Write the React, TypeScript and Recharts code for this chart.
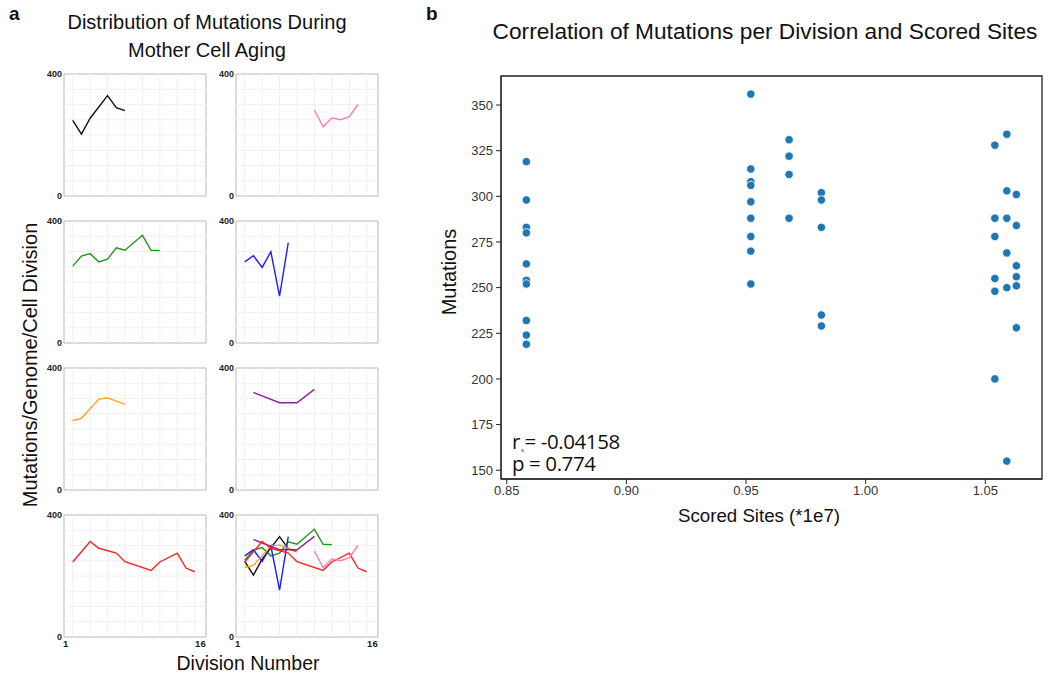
import React from "react";
import {
  LineChart,
  Line,
  XAxis,
  YAxis,
  ReferenceLine,
  ReferenceArea,
  ScatterChart,
  Scatter,
} from "recharts";

// Mutations per genome per division, one series per mother cell lineage.
const blackDivisions = [1, 2, 3, 5, 6, 7];
const blackMutations = [248, 203, 255, 329, 290, 280];
const pinkDivisions = [9, 10, 11, 12, 13, 14];
const pinkMutations = [282, 227, 256, 250, 260, 300];
const greenDivisions = [1, 2, 3, 4, 5, 6, 7, 9, 10, 11];
const greenMutations = [252, 285, 293, 266, 275, 312, 304, 353, 304, 303];
const blueDivisions = [1, 2, 3, 4, 5, 6];
const blueMutations = [266, 286, 248, 299, 154, 329];
const orangeDivisions = [1, 2, 4, 5, 7];
const orangeMutations = [228, 235, 298, 302, 281];
const purpleDivisions = [2, 5, 7, 9];
const purpleMutations = [320, 286, 286, 330];
const redDivisions = [1, 3, 4, 6, 7, 10, 11, 13, 14, 15];
const redMutations = [246, 313, 291, 275, 247, 218, 246, 275, 226, 214];

const divisionTicks = [1, 16];
const mutationTicks = [0, 400];
const divisionGrid = [1, 3, 5, 7, 9, 11, 13, 15];
const mutationGrid = [50, 100, 150, 200, 250, 300, 350];

// Scored sites (*1e7) per sample and the mutation counts measured at each.
const scoredSites = [0.8582, 0.952, 0.968, 0.9815, 1.054, 1.059, 1.063];
const mutationsAtSite = [
  [319, 298, 283, 280, 263, 254, 252, 232, 224, 219],
  [356, 315, 308, 306, 297, 288, 278, 270, 252],
  [331, 322, 312, 288],
  [302, 298, 283, 235, 229],
  [328, 288, 278, 255, 248, 200],
  [334, 303, 288, 269, 250, 155],
  [301, 284, 262, 256, 251, 228],
];
const siteTicks = [0.85, 0.9, 0.95, 1.0, 1.05];
const scatterMutationTicks = [150, 175, 200, 225, 250, 275, 300, 325, 350];

type Series = { name: string; color: string; points: { x: number; y: number }[] };

const toPoints = (xs: number[], ys: number[]) => xs.map((x, i) => ({ x, y: ys[i] }));

const black: Series = { name: "black", color: "#111111", points: toPoints(blackDivisions, blackMutations) };
const pink: Series = { name: "pink", color: "#ff7ac2", points: toPoints(pinkDivisions, pinkMutations) };
const green: Series = { name: "green", color: "#1f961f", points: toPoints(greenDivisions, greenMutations) };
const blue: Series = { name: "blue", color: "#1c1cff", points: toPoints(blueDivisions, blueMutations) };
const orange: Series = { name: "orange", color: "#ffa31a", points: toPoints(orangeDivisions, orangeMutations) };
const purple: Series = { name: "purple", color: "#8e1f98", points: toPoints(purpleDivisions, purpleMutations) };
const red: Series = { name: "red", color: "#ff1f1f", points: toPoints(redDivisions, redMutations) };

const panels: { left: number; top: number; series: Series[]; showX: boolean }[] = [
  { left: 64, top: 74, series: [black], showX: false },
  { left: 236, top: 74, series: [pink], showX: false },
  { left: 64, top: 221, series: [green], showX: false },
  { left: 236, top: 221, series: [blue], showX: false },
  { left: 64, top: 368, series: [orange], showX: false },
  { left: 236, top: 368, series: [purple], showX: false },
  { left: 64, top: 515, series: [red], showX: true },
  { left: 236, top: 515, series: [black, green, blue, orange, purple, red, pink], showX: true },
];

const scatterPoints = scoredSites.flatMap((x, i) => mutationsAtSite[i].map((y) => ({ x, y })));

const X_MAX = 16.3;
const FONT = "'Liberation Sans', Arial, sans-serif";

function DivisionTick(props: any) {
  const { x, y, payload, index } = props;
  const shift = index === 0 ? -7 : -3;
  return (
    <text x={x + shift} y={y + 2} textAnchor="middle" fontSize={9.5} fontWeight="bold" fill="#222" fontFamily={FONT}>
      {payload.value}
    </text>
  );
}

function MiniChart({ left, top, series, showX }: { left: number; top: number; series: Series[]; showX: boolean }) {
  return (
    <div style={{ position: "absolute", left: left - 40, top: top - 10 }}>
      <LineChart width={192} height={162} margin={{ top: 10, right: 10, left: 0, bottom: 0 }}>
        <XAxis
          type="number"
          dataKey="x"
          domain={[0, X_MAX]}
          ticks={divisionTicks}
          height={30}
          axisLine={false}
          tickLine={false}
          tick={showX ? <DivisionTick /> : false}
          allowDataOverflow
        />
        <YAxis
          type="number"
          domain={[0, 400]}
          ticks={mutationTicks}
          width={40}
          axisLine={false}
          tickLine={false}
          tickSize={0}
          tickMargin={2}
          tick={{ fontSize: 9, fontWeight: "bold", fill: "#222", fontFamily: FONT }}
        />
        {divisionGrid.map((v) => (
          <ReferenceLine key={`gx${v}`} x={v} stroke="#f0f0f0" strokeWidth={1} />
        ))}
        {mutationGrid.map((v) => (
          <ReferenceLine key={`gy${v}`} y={v} stroke="#f0f0f0" strokeWidth={1} />
        ))}
        <ReferenceArea x1={0} x2={X_MAX} y1={0} y2={400} fill="none" stroke="#b8b8b8" strokeWidth={1} />
        {series.map((s) => (
          <Line
            key={s.name}
            data={s.points}
            dataKey="y"
            type="linear"
            stroke={s.color}
            strokeWidth={1.4}
            dot={false}
            activeDot={false}
            isAnimationActive={false}
          />
        ))}
      </LineChart>
    </div>
  );
}

const X_DOMAIN: [number, number] = [0.8476, 1.0737];
const Y_DOMAIN: [number, number] = [145.2, 365.9];

export default function App() {
  return (
    <div
      style={{
        position: "absolute",
        left: 0,
        top: 0,
        width: 1050,
        height: 675,
        background: "#fff",
        fontFamily: FONT,
        color: "#111",
        overflow: "hidden",
      }}
    >
      {/* panel a */}
      <div style={{ position: "absolute", left: 9, top: 3, fontSize: 19, fontWeight: "bold" }}>a</div>
      <div
        style={{
          position: "absolute",
          left: 57,
          top: 8,
          width: 300,
          textAlign: "center",
          fontSize: 20,
          lineHeight: "28px",
        }}
      >
        Distribution of Mutations During
        <br />
        Mother Cell Aging
      </div>
      <div
        style={{
          position: "absolute",
          left: 30,
          top: 365,
          transform: "translate(-50%, -50%) rotate(-90deg)",
          whiteSpace: "nowrap",
          fontSize: 20,
        }}
      >
        Mutations/Genome/Cell Division
      </div>
      <div
        style={{
          position: "absolute",
          left: 248,
          top: 663,
          transform: "translate(-50%, -50%)",
          whiteSpace: "nowrap",
          fontSize: 19.5,
        }}
      >
        Division Number
      </div>
      {panels.map((p, i) => (
        <MiniChart key={i} {...p} />
      ))}

      {/* panel b */}
      <div style={{ position: "absolute", left: 426, top: 3, fontSize: 19, fontWeight: "bold" }}>b</div>
      <div
        style={{
          position: "absolute",
          left: 765,
          top: 31,
          transform: "translate(-50%, -50%)",
          whiteSpace: "nowrap",
          fontSize: 22.7,
        }}
      >
        Correlation of Mutations per Division and Scored Sites
      </div>
      <div
        style={{
          position: "absolute",
          left: 449,
          top: 272,
          transform: "translate(-50%, -50%) rotate(-90deg)",
          whiteSpace: "nowrap",
          fontSize: 20,
        }}
      >
        Mutations
      </div>
      <div
        style={{
          position: "absolute",
          left: 759,
          top: 516,
          transform: "translate(-50%, -50%)",
          whiteSpace: "nowrap",
          fontSize: 18.7,
        }}
      >
        Scored Sites (*1e7)
      </div>
      <div style={{ position: "absolute", left: 441, top: 66 }}>
        <ScatterChart width={609} height={463} margin={{ top: 10, right: 8, left: 0, bottom: 0 }}>
          <XAxis
            type="number"
            dataKey="x"
            domain={X_DOMAIN}
            ticks={siteTicks}
            tickFormatter={(v: number) => v.toFixed(2)}
            height={50}
            stroke="#222"
            tickSize={5}
            tickMargin={2}
            tick={{ fill: "#333", fontSize: 13, fontFamily: FONT }}
            allowDataOverflow
          />
          <YAxis
            type="number"
            dataKey="y"
            domain={Y_DOMAIN}
            ticks={scatterMutationTicks}
            width={60}
            stroke="#222"
            tickSize={5}
            tickMargin={3}
            tick={{ fill: "#333", fontSize: 13, fontFamily: FONT }}
            allowDataOverflow
          />
          <ReferenceArea
            x1={X_DOMAIN[0]}
            x2={X_DOMAIN[1]}
            y1={Y_DOMAIN[0]}
            y2={Y_DOMAIN[1]}
            fill="none"
            stroke="#222"
            strokeWidth={1.3}
          />
          <Scatter
            data={scatterPoints}
            isAnimationActive={false}
            shape={(p: any) => (
              <circle cx={p.cx} cy={p.cy} r={4.2} fill="#1f77b4" stroke="#ffffff" strokeWidth={0.8} />
            )}
          />
        </ScatterChart>
      </div>
      <div
        style={{
          position: "absolute",
          left: 512,
          top: 431,
          fontFamily: "'Open Sans', sans-serif",
          fontSize: 20.5,
          lineHeight: "21.5px",
          color: "#111",
          letterSpacing: -0.4,
        }}
      >
        <div style={{ height: 21.5 }}>
          r
          <span style={{ fontSize: 6, position: "relative", top: 3, marginLeft: 1, marginRight: 1 }}>s</span>= -0.04158
        </div>
        <div style={{ height: 21.5 }}>p = 0.774</div>
      </div>
    </div>
  );
}
